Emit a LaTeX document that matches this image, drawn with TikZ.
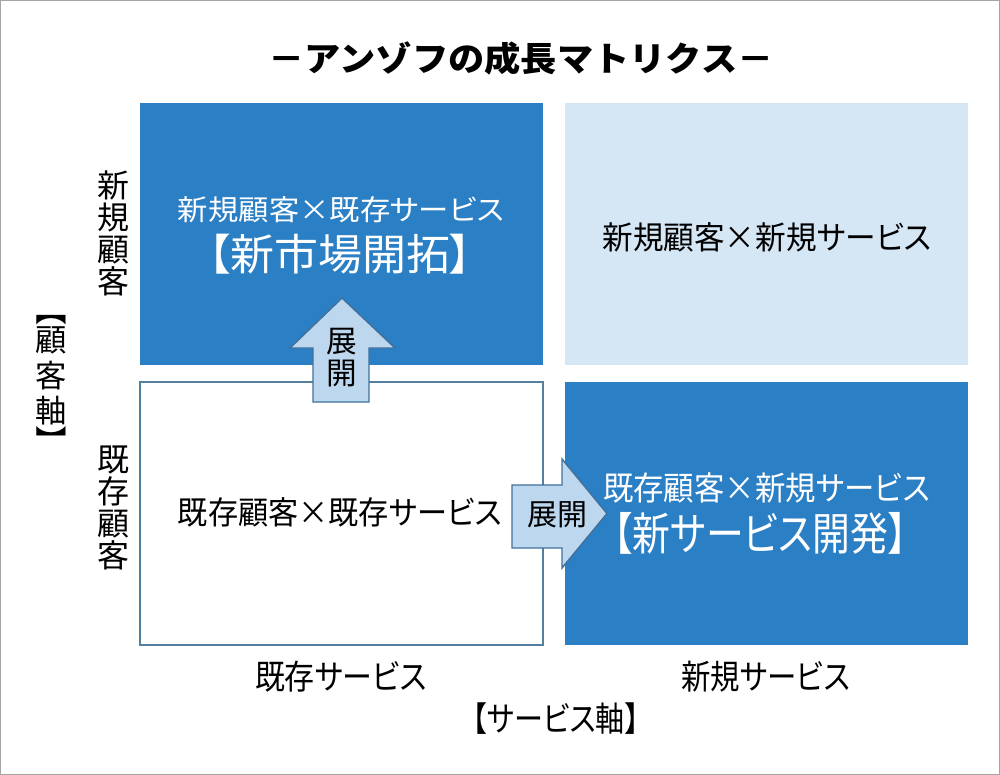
\documentclass[tikz,border=0pt]{standalone}
\usepackage{fontspec}
\setmainfont{Noto Sans CJK JP}[RawFeature=+palt]
\newfontfamily\jpfull{Noto Sans CJK JP}
\definecolor{boxblue}{RGB}{43,127,196}
\definecolor{lightblue}{RGB}{213,230,244}
\definecolor{arrowfill}{RGB}{189,215,238}
\definecolor{arrowedge}{RGB}{65,113,156}
\definecolor{cellborder}{RGB}{84,128,160}
\definecolor{framegray}{RGB}{165,165,165}
\newcommand{\fitw}[3]{\resizebox{#1}{\height}{\fontsize{#2}{#2}\selectfont #3}}
\tikzset{
  cell/.style={rectangle, inner sep=0pt, draw=none, minimum width=302.25pt},
  txt/.style={inner sep=0pt, anchor=center},
  vtxt/.style={inner sep=0pt, align=center, font=\fontsize{24pt}{24pt}\selectfont},
  axchar/.style={inner sep=0pt, anchor=center, font=\fontsize{23.5pt}{23.5pt}\selectfont},
  blockarrow/.style={fill=arrowfill, draw=arrowedge, line width=1.1pt, line join=miter},
}
\begin{document}
\begin{tikzpicture}[x=0.75pt,y=-0.75pt]
\useasboundingbox (0,0) rectangle (1000,775);
\fill[white] (0,0) rectangle (1000,775);
\draw[framegray, line width=0.75pt] (0.5,0.5) rectangle (999.5,774.5);

% title
\node[txt] (title) at (521,58) {\fitw{378.75pt}{25.5pt}{\jpfull\bfseries －アンゾフの成長マトリクス－}};

% cells
\node[cell, fill=boxblue, minimum height=196.5pt] (tl) at (341.5,234) {};
\node[cell, fill=lightblue, minimum height=196.5pt] (tr) at (766.5,234) {};
\node[cell, fill=white, draw=cellborder, line width=1.1pt, minimum height=197.25pt] (bl) at (341.5,513.5) {};
\node[cell, fill=boxblue, minimum height=197.25pt] (br) at (766.5,513.5) {};

% cell texts
\node[txt, white] (tl1) at (341,209.5) {\fitw{244.5pt}{21.4pt}{新規顧客×既存サービス}};
\node[txt, white] (tl2) at (340,254) {\fitw{198pt}{32.25pt}{【新市場開拓】}};
\node[txt] (tr1) at (767,237) {\fitw{246.75pt}{24pt}{新規顧客×新規サービス}};
\node[txt] (bl1) at (340,512.5) {\fitw{243pt}{24pt}{既存顧客×既存サービス}};
\node[txt, white] (br1) at (766.5,488) {\fitw{245.25pt}{24.75pt}{既存顧客×新規サービス}};
\node[txt, white] (br2) at (760.5,533) {\fitw{219.75pt}{33.75pt}{【新サービス開発】}};

% axis labels
\node[vtxt] (rnew) at (113,233.5) {新\\規\\顧\\客};
\node[vtxt] (rold) at (113,508) {既\\存\\顧\\客};
\node[axchar] (ax1) at (51,317) {\rotatebox{-90}{【}};
\node[axchar] (ax2) at (51,340) {顧};
\node[axchar] (ax3) at (51,376) {客};
\node[axchar] (ax4) at (51,411) {軸};
\node[axchar] (ax5) at (51,434) {\rotatebox{-90}{】}};
\node[txt] (cold) at (341,677) {\fitw{129pt}{25.5pt}{既存サービス}};
\node[txt] (cnew) at (765.5,677) {\fitw{126.75pt}{25.5pt}{新規サービス}};
\node[txt] (caxis) at (556,719) {\fitw{125.25pt}{25.5pt}{【サービス軸】}};

% block arrows
\draw[blockarrow] (313,402) -- (313,348) -- (290,348) -- (342,298) -- (395,348) -- (369,348) -- (369,402) -- cycle;
\node[vtxt, font=\fontsize{23pt}{24pt}\selectfont] (uplab) at (342,358) {展\\開};
\draw[blockarrow] (512,485) -- (562,485) -- (562,459) -- (607,513.5) -- (562,568) -- (562,548) -- (512,548) -- cycle;
\node[txt, font=\fontsize{22.5pt}{22.5pt}\selectfont] (rightlab) at (557,515) {展開};
\end{tikzpicture}
\end{document}
